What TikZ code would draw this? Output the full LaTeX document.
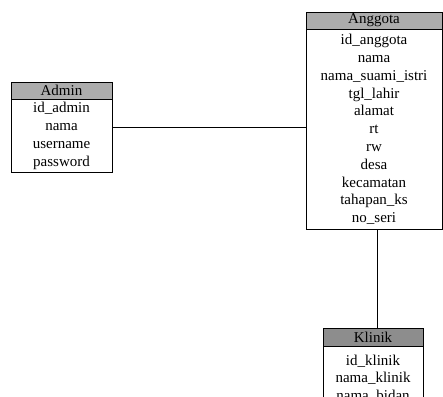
\documentclass[tikz,border=0pt]{standalone}
\usepackage{fontspec}
\setmainfont{Liberation Serif}
\usetikzlibrary{positioning}

\begin{document}
\begin{tikzpicture}[x=1pt,y=-1pt,node distance=0pt,
kepala/.style={draw,fill=gray!65,minimum height=17pt,inner sep=0pt,font=\fontsize{15}{17}\selectfont},
kepalaGelap/.style={kepala,fill=gray!95!black!85},
isi/.style={draw,fill=white,align=center,inner sep=0pt,anchor=north},
tabel/.style={line width=0.8pt}
]
\useasboundingbox (0,0) rectangle (443,396);
\clip (0,0) rectangle (443,396);
%-- Admin
\node[kepala,minimum width=101pt](admin) at (61.5,90.5){Admin};
\node[isi,minimum width=101pt,minimum height=73pt,below = of admin,
  font=\fontsize{15}{18.3}\selectfont](adminIsi){id\_admin\\nama\\username\\password};
%-- Anggota
\node[kepala,minimum width=136pt](anggota) at (374,20.5){Anggota};
\node[isi,minimum width=136pt,minimum height=200pt,below = of anggota,
  font=\fontsize{15}{17.8}\selectfont](anggotaIsi){id\_anggota\\nama\\nama\_suami\_istri\\tgl\_lahir\\alamat\\rt\\rw\\desa\\kecamatan\\tahapan\_ks\\no\_seri};
%-- Klinik
\node[kepalaGelap,minimum width=100pt,minimum height=18pt](klinik) at (373,337){Klinik};
\node[isi,minimum width=100pt,minimum height=80pt,below = of klinik,
  font=\fontsize{15}{17.5}\selectfont](klinikIsi){id\_klinik\\nama\_klinik\\nama\_bidan\\ };
%-- relasi
\draw ([yshift=8.5pt]adminIsi.east) -- ([yshift=8.5pt]adminIsi.east -| anggotaIsi.west);
\draw ([xshift=3pt]anggotaIsi.south) -- ([xshift=3pt]anggotaIsi.south |- klinik.north);
\end{tikzpicture}
\end{document}
